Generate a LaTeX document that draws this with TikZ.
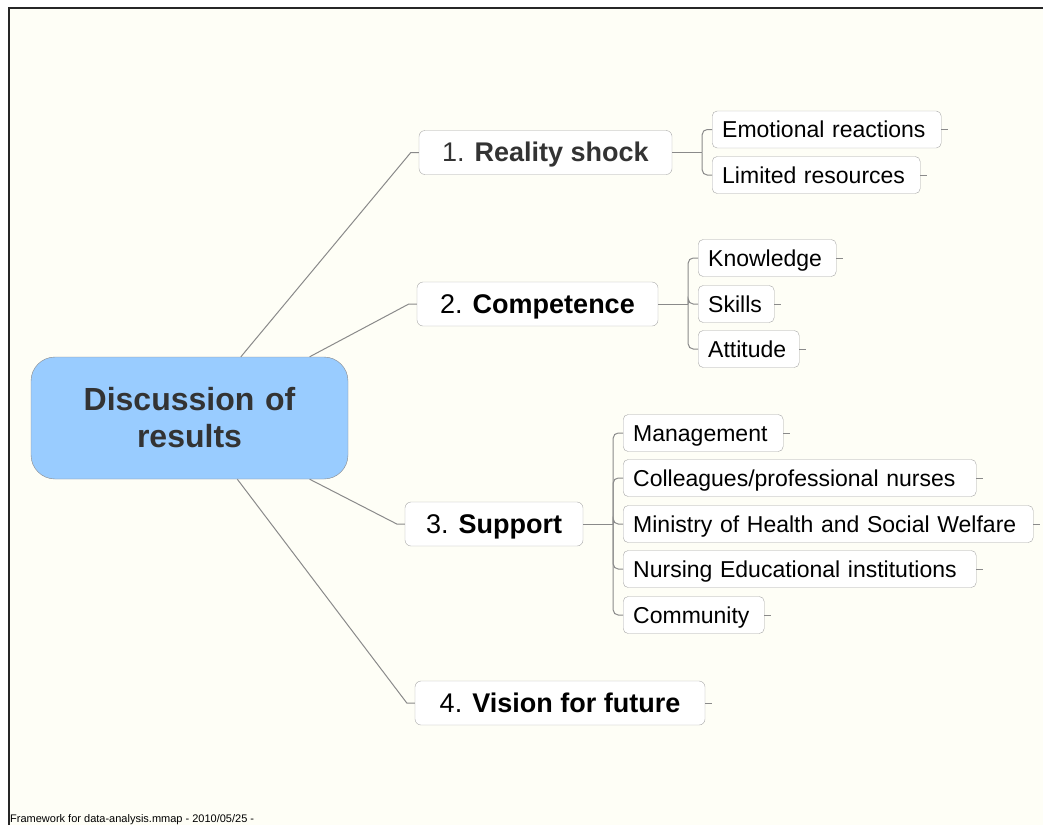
\documentclass[tikz,border=0pt]{standalone}
\usepackage{fontspec}
\setmainfont{Liberation Sans}
\usetikzlibrary{positioning}
\definecolor{paper}{HTML}{FEFEF6}
\definecolor{rootblue}{HTML}{99CCFF}
\definecolor{darktext}{HTML}{333333}
\definecolor{edgegray}{HTML}{8A8A8A}
\definecolor{boxgray}{HTML}{A8A8A8}

\begin{document}
\begin{tikzpicture}[x=1pt, y=-1pt,
    root/.style = {draw=edgegray, fill=rootblue, rounded corners=24pt, minimum width=317pt, minimum height=122pt, text width=290pt, align=center, text=darktext, font=\fontsize{32}{37}\selectfont\bfseries, inner sep=0pt},
    branch/.style = {draw=boxgray, fill=white, rounded corners=6pt, minimum width=#1, minimum height=44pt, inner sep=0pt, text height=21pt, text depth=2.4pt, font=\fontsize{27}{32}\selectfont},
    leaf/.style = {draw=boxgray, fill=white, rounded corners=5pt, anchor=west, text width=#1, align=left, minimum height=37pt, inner xsep=10pt, inner ysep=0pt, text height=18pt, text depth=2pt, font=\fontsize{23}{27}\selectfont},
    link/.style = {draw=edgegray, line width=1pt}]
    \useasboundingbox (0,0) rectangle (1043,825);
    \fill[white] (0,0) rectangle (1043,825);
    \fill[paper] (9,8) rectangle (1043,825);
    \draw[line width=1.5pt, black!85] (9,825) -- (9,8) -- (1043,8);

    \node[root] (dis) at (189.5,418) {Discussion of\\results};
    \node[branch=253pt, text=darktext] (rs) at (545.5,152.5) {1. \textbf{Reality shock}};
    \node[branch=241pt] (comp) at (537.5,304) {2. \textbf{Competence}};
    \node[branch=178pt] (sup) at (494,524) {3. \textbf{Support}};
    \node[branch=290pt] (vis) at (560,703) {4. \textbf{Vision for future}};

    \node[leaf=209pt] (emo) at (712,129.5) {Emotional reactions};
    \node[leaf=188pt] (lim) at (712,175) {Limited resources};
    \node[leaf=118pt] (know) at (698,258) {Knowledge};
    \node[leaf=56pt] (skill) at (698,304) {Skills};
    \node[leaf=81pt] (att) at (698,349) {Attitude};
    \node[leaf=140pt] (man) at (623,433) {Management};
    \node[leaf=333pt] (coll) at (623,478) {Colleagues/professional nurses};
    \node[leaf=390pt] (min) at (623,524) {Ministry of Health and Social Welfare};
    \node[leaf=333pt] (nurs) at (623,569) {Nursing Educational institutions};
    \node[leaf=121pt] (comm) at (623,615) {Community};

    \node[anchor=base west, inner sep=0pt, font=\fontsize{11}{13}\selectfont] (foot) at (10,822) {Framework for data-analysis.mmap - 2010/05/25 -};

    \draw[link] (dis.50.4) -- ([xshift=-8pt]rs.west) -- (rs.west);
    \draw[link] (dis.27.4) -- ([xshift=-8pt]comp.west) -- (comp.west);
    \draw[link] (dis.-27) -- ([xshift=-8pt]sup.west) -- (sup.west);
    \draw[link] (dis.-52.5) -- ([xshift=-8pt]vis.west) -- (vis.west);

    \draw[link] (rs.east) -- ++(30,0) coordinate (rsj);
    \draw[link] (comp.east) -- ++(30,0) coordinate (compj);
    \draw[link] (sup.east) -- ++(30,0) coordinate (supj);
    \foreach \c in {emo, lim}
        \draw[link, rounded corners=5pt] (rsj) |- (\c.west);
    \foreach \c in {know, skill, att}
        \draw[link, rounded corners=5pt] (compj) |- (\c.west);
    \foreach \c in {man, coll, min, nurs, comm}
        \draw[link, rounded corners=5pt] (supj) |- (\c.west);
    \foreach \c in {emo, lim, know, skill, att, man, coll, min, nurs, comm, vis}
        \draw[link] (\c.east) -- ++(7,0);
\end{tikzpicture}
\end{document}
